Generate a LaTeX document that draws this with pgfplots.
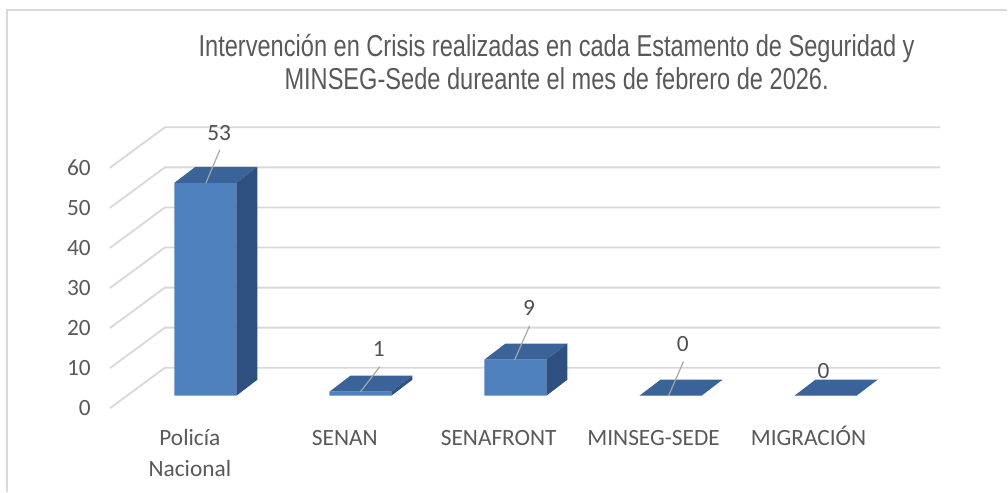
\documentclass[border=0pt]{standalone}
\usepackage{pgfplots}
\usepackage{pgfplotstable}
\pgfplotsset{compat=1.18}
\usepackage{fontspec}
\setmainfont{Carlito}
\newfontfamily\titlefont[FakeStretch=0.78]{Liberation Sans}
\definecolor{txt}{HTML}{595959}
\definecolor{gridc}{HTML}{D9D9D9}
\definecolor{frontc}{HTML}{4F80BE}
\definecolor{topc}{HTML}{3A6499}
\definecolor{sidec}{HTML}{2D5080}
\definecolor{leadc}{HTML}{A6A6A6}

% category index, value
\pgfplotstableread{
i v
0 53
1 1
2 9
3 0
4 0
}\datatable

\begin{document}
\begin{tikzpicture}
% background: frame, walls, gridlines, labels (pixel coordinates)
\begin{scope}[yshift=369pt,x=0.75pt,y=-0.75pt]
  \path (0,0) rectangle (1008,492);
  \draw[gridc,line width=1pt] (7,492) -- (7,10) -- (1008,10);
  \foreach \k in {0,...,6}{
    \draw[gridc,line width=1.4pt,line join=round]
      (110,{408.5-40.1*\k}) -- (165,{368-40.1*\k}) -- (941,{368-40.1*\k});
    \pgfmathtruncatemacro\lab{10*\k}
    \node[txt,anchor=east,inner sep=0pt,font=\fontsize{17.5}{21}\selectfont]
      at (91,{408.5-40.1*\k}) {\lab};
  }
  \node[txt,anchor=base,inner sep=0pt,font=\titlefont\fontsize{22.7}{27}\selectfont]
    at (557,57) {Intervención en Crisis realizadas en cada Estamento de Seguridad y};
  \node[txt,anchor=base,inner sep=0pt,font=\titlefont\fontsize{22.7}{27}\selectfont]
    at (557,90) {MINSEG-Sede dureante el mes de febrero de 2026.};
  \begin{scope}[every node/.style={txt,anchor=base,inner sep=0pt,font=\fontsize{17.5}{21}\selectfont}]
    \node at (190,445.7) {Policía};
    \node at (190,476.5) {Nacional};
    \node at (345,445.7) {SENAN};
    \node at (499,445.7) {SENAFRONT};
    \node at (654,445.7) {MINSEG-SEDE};
    \node at (809,445.7) {MIGRACIÓN};
  \end{scope}
\end{scope}

\begin{axis}[
  at={(0,0)}, anchor=south west,
  scale only axis, width=756pt, height=369pt,
  xmin=-1.32495, xmax=5.17408,
  ymin=-23.8806, ymax=98.5075,
  hide axis, clip=false,
]
  % front faces
  \addplot[ybar, bar width=46.5pt, fill=frontc, draw=none, forget plot]
    table[x=i, y=v] {\datatable};
  % top and side faces
  \pgfplotsforeachungrouped \k in {0,...,4}{%
    \pgfplotstablegetelem{\k}{v}\of\datatable
    \let\val=\pgfplotsretval
    \pgfmathsetmacro\xl{\k-0.19988}%
    \pgfmathsetmacro\xr{\k+0.19988}%
    \pgfmathsetmacro\xrr{\k+0.19988+0.13540}%
    \pgfmathsetmacro\xll{\k-0.19988+0.13540}%
    \pgfmathsetmacro\vb{\val+3.98}%
    \edef\temp{%
      \noexpand\addplot[fill=topc,draw=none,forget plot]
        coordinates {(\xl,\val) (\xr,\val) (\xrr,\vb) (\xll,\vb)};
      \noexpand\addplot[fill=sidec,draw=none,forget plot]
        coordinates {(\xr,0) (\xr,\val) (\xrr,\vb) (\xrr,3.98)};
    }%
    \temp
  }
\end{axis}

% leader lines and data labels (pixel coordinates)
\begin{scope}[yshift=369pt,x=0.75pt,y=-0.75pt]
  \draw[leadc,line width=0.9pt] (220,150) -- (206,183.3);
  \draw[leadc,line width=0.9pt] (380,367) -- (360.7,392);
  \draw[leadc,line width=0.9pt] (530,326) -- (515,360);
  \draw[leadc,line width=0.9pt] (684,361.7) -- (669,396);
  \begin{scope}[every node/.style={txt!90!black,anchor=base,inner sep=0pt,font=\fontsize{17.5}{21}\selectfont}]
    \node at (219.3,140.7) {53};
    \node at (379,356.7) {1};
    \node at (529.3,316) {9};
    \node at (683.3,351.7) {0};
    \node at (824,379) {0};
  \end{scope}
\end{scope}
\end{tikzpicture}
\end{document}
